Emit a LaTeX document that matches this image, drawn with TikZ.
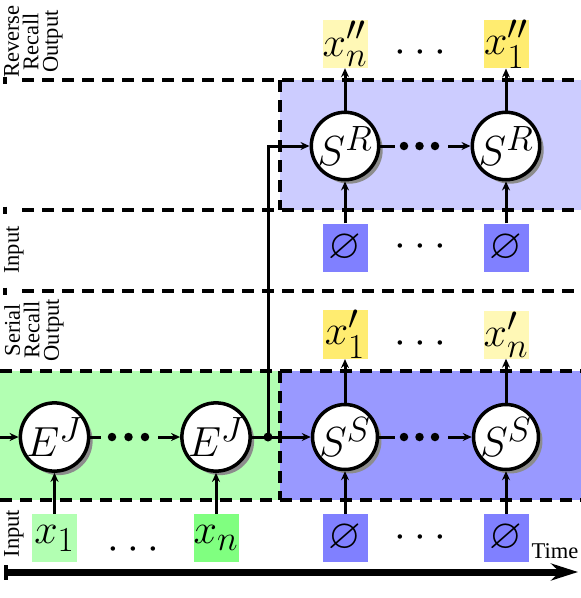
\documentclass[tikz,border=0pt]{standalone}
\usepackage{amssymb}
\usepackage{graphicx}
\usepackage[no-math]{fontspec}
\setmainfont{Liberation Serif}
\usetikzlibrary{arrows.meta,shadows}
\definecolor{ydark}{RGB}{255,236,112}
\definecolor{ylight}{RGB}{255,248,182}
\newcommand\mth[1]{\scalebox{1.69}{\fontsize{24.88}{26}\selectfont$#1$}}
\newcommand\lfont{\fontsize{22.5}{19.5}\selectfont}
\newcommand\threedots{\mth{{\cdot}\hspace{4.9pt}{\cdot}\hspace{4.9pt}{\cdot}}}
\begin{document}
\begin{tikzpicture}[x=1pt,y=-1pt,
  dline/.style={line width=3.5pt,dash pattern=on 12pt off 8pt},
  conn/.style={line width=3pt,-{Stealth[length=9pt,width=8pt]}},
  plain/.style={line width=3pt},
  cell/.style={circle,draw,line width=3.5pt,fill=white,minimum size=62pt,inner sep=0pt,
    drop shadow={shadow xshift=4pt,shadow yshift=-4pt,fill=black!45,opacity=1}},
  box/.style={minimum width=45pt,minimum height=48pt,inner sep=0pt},
  bigdot/.style={fill,circle,inner sep=0pt,minimum size=8.5pt},
  smalldots/.style={anchor=base,inner sep=0pt},
  lbl/.style={rotate=90,align=center,font=\lfont,inner sep=0pt,anchor=north}]
\useasboundingbox (0,0) rectangle (581,598);

% regions
\fill[blue!20] (280,80) rectangle (581,210);
\fill[green!30] (0,371) rectangle (280,500);
\fill[blue!40] (280,371) rectangle (581,500);

% dashed row lines
\draw[dline] (22,80) -- (581,80);
\draw[dline] (22,210) -- (581,210);
\draw[dline] (22,291) -- (581,291);
\draw[dline] (0,371) -- (581,371);
\draw[dline] (0,500) -- (581,500);
\draw[dline] (280,80) -- (280,210);
\draw[dline] (280,371) -- (280,500);
\foreach \yy in {80,210,291} \draw[line width=3.4pt] (5,\yy-3.5) -- (5,\yy+3.5);

% row labels
\node[lbl] (lrev) at (4,41.5) {Reverse\\Recall\\Output};
\node[lbl] (lin1) at (4,250) {Input};
\node[lbl] (lser) at (4,330) {Serial\\Recall\\Output};
\node[lbl] (lin2) at (4,533.5) {Input};

% cells
\node[cell] (E1) at (54.5,437) {\mth{E^J}};
\node[cell] (E2) at (216,437) {\mth{E^J}};
\node[cell] (SS1) at (345,437) {\mth{S^S}};
\node[cell] (SS2) at (506,437) {\mth{S^S}};
\node[cell] (SR1) at (345,146) {\mth{S^R}};
\node[cell] (SR2) at (506,146) {\mth{S^R}};

% boxes
\node[box,fill=green!30] (in1) at (54.5,538) {\mth{x_1}};
\node[box,fill=green!50] (inn) at (216,538) {\mth{x_n}};
\node[box,fill=blue!50] (zs1) at (345,538) {\mth{\varnothing}};
\node[box,fill=blue!50] (zs2) at (506,538) {\mth{\varnothing}};
\node[box,fill=blue!50] (zr1) at (345,247.5) {\mth{\varnothing}};
\node[box,fill=blue!50] (zr2) at (506,247.5) {\mth{\varnothing}};
\node[box,fill=ydark] (os1) at (345,334.5) {\mth{x'_1}};
\node[box,fill=ylight] (os2) at (506,334.5) {\mth{x'_n}};
\node[box,fill=ylight] (or1) at (345,44) {\mth{x''_n}};
\node[box,fill=ydark] (or2) at (506,44) {\mth{x''_1}};

% small dots
\node[smalldots] (dd1) at (420,62.5) {\threedots};
\node[smalldots] (dd2) at (420,256.5) {\threedots};
\node[smalldots] (dd3) at (420,353.5) {\threedots};
\node[smalldots] (dd4) at (133,559.5) {\threedots};
\node[smalldots] (dd5) at (420,547.5) {\threedots};

% big dots in chains
\foreach \xx in {112,128.5,145} \node[bigdot] at (\xx,437) {};
\foreach \xx in {404,419.5,435} \node[bigdot] at (\xx,437) {};
\foreach \xx in {404,419.5,435} \node[bigdot] at (\xx,146) {};
\coordinate (ea) at (101,437);
\coordinate (eb) at (158,437);
\coordinate (sa) at (395,437);
\coordinate (sb) at (448,437);
\coordinate (ra) at (395,146);
\coordinate (rb) at (448,146);
\draw[plain] (E1) -- (ea);
\draw[conn] (eb) -- (E2);
\draw[plain] (SS1) -- (sa);
\draw[conn] (sb) -- (SS2);
\draw[plain] (SR1) -- (ra);
\draw[conn] (rb) -- (SR2);

% input and junction
\coordinate (inL) at (0,437);
\coordinate (J) at (268,437);
\draw[conn] (inL) -- (E1);
\draw[plain] (E2) -- (J);
\draw[conn] (J) -- (SS1);
\draw[conn] (J) |- (SR1);
\fill (J) circle (4.5pt);

% vertical connections
\draw[conn] (in1) -- (E1);
\draw[conn] (inn) -- (E2);
\draw[conn] (zs1) -- (SS1);
\draw[conn] (zs2) -- (SS2);
\draw[conn] (zr1) -- (SR1);
\draw[conn] (zr2) -- (SR2);
\draw[conn] (SS1) -- (os1);
\draw[conn] (SS2) -- (os2);
\draw[conn] (SR1) -- (or1);
\draw[conn] (SR2) -- (or2);

% time axis
\coordinate (t0) at (4,572);
\coordinate (t1) at (578,572);
\draw[line width=7pt,{Bar[width=15pt,line width=3.5pt]}-{Stealth[length=27pt,width=17pt]}] (t0) -- (t1);
\node[font=\lfont,anchor=base,inner sep=0pt] (time) at (555,558) {Time};
\end{tikzpicture}
\end{document}
